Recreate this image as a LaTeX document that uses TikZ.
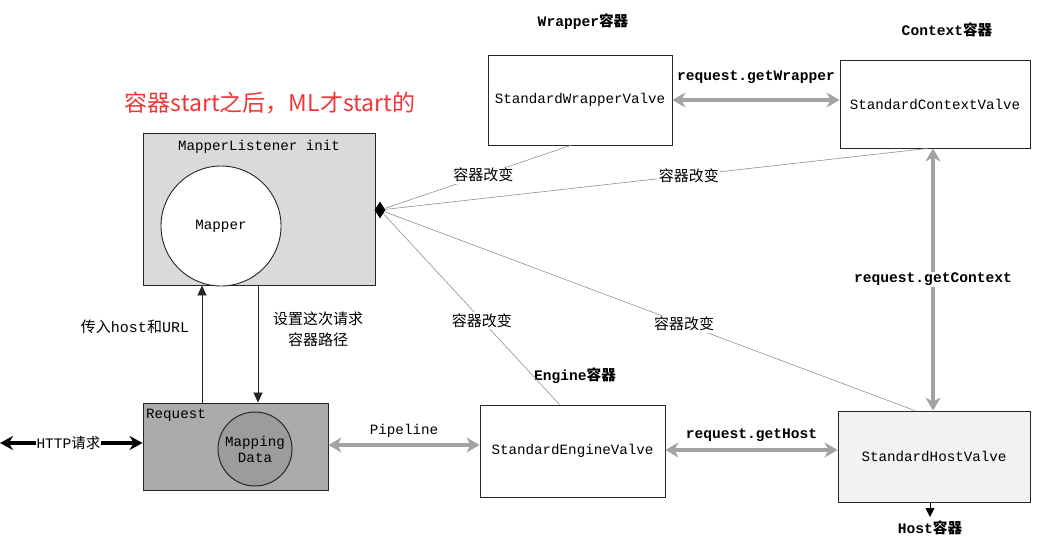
\documentclass[tikz,border=0pt]{standalone}
\usepackage{fontspec}
\setmainfont{Liberation Mono}
\newfontfamily\cjk{Noto Sans CJK SC}
\usetikzlibrary{arrows.meta,shapes.geometric,calc}
\definecolor{gline}{HTML}{A3A3A3}
\definecolor{thinline}{HTML}{909090}
\definecolor{mlfill}{HTML}{DADADA}
\definecolor{rqfill}{HTML}{ABABAB}
\definecolor{mdfill}{HTML}{9C9C9C}
\definecolor{hostfill}{HTML}{F2F2F2}
\definecolor{annot}{RGB}{240,55,55}
\tikzset{
  box/.style={draw=black!85, line width=0.9pt, inner sep=0pt, font=\fontsize{14.2}{16}\selectfont},
  circ/.style={circle, draw=black!85, line width=0.9pt, inner sep=0pt, align=center, font=\fontsize{14.2}{16}\selectfont},
  txt/.style={inner sep=1pt, font=\fontsize{14.2}{16}\selectfont},
  btxt/.style={inner sep=1pt, font=\fontsize{14.6}{16}\selectfont\bfseries},
  cjklab/.style={fill=white, inner sep=1.5pt, font=\cjk\fontsize{15}{17}\selectfont},
  fat/.style={line width=4.5pt, draw=gline, {Stealth[length=13pt,width=15pt]}-{Stealth[length=13pt,width=15pt]}},
  black fat/.style={line width=4pt, draw=black, {Stealth[length=13pt,width=14pt]}-{Stealth[length=13pt,width=14pt]}},
  change/.style={draw=thinline, line width=0.6pt},
  thinarrow/.style={draw=black!85, line width=0.8pt, -{Triangle[length=10pt,width=9pt]}}
}
\begin{document}
\begin{tikzpicture}[x=1pt,y=-1pt]
\useasboundingbox[fill=white] (0,0) rectangle (1059,548);

% boxes
\node[box, fill=mlfill, minimum width=232pt, minimum height=152pt] (ml) at (259,209) {};
\node[txt] (mltitle) at (259,147) {MapperListener init};
\node[circ, fill=white, minimum size=120pt] (mapper) at (221,226) {Mapper};

\node[box, fill=rqfill, minimum width=185pt, minimum height=87pt] (rq) at (235.5,446.5) {};
\node[txt] (rqtitle) at (176,415) {Request};
\node[circ, fill=mdfill, minimum size=74pt, line width=1pt] (md) at (255,449) {Mapping\\Data};

\node[box, minimum width=184pt, minimum height=90pt] (wr) at (580,100) {StandardWrapperValve};
\node[box, minimum width=190pt, minimum height=88pt] (ctx) at (935,104) {StandardContextValve};
\node[box, minimum width=185pt, minimum height=92pt] (eng) at (572.5,451) {StandardEngineValve};
\node[box, fill=hostfill, minimum width=192pt, minimum height=91pt] (host) at (934,456.5) {StandardHostValve};

% titles
\node[btxt] (wrt) at (583,22) {Wrapper{\cjk 容器}};
\node[btxt] (ctxt) at (947,30) {Context{\cjk 容器}};
\node[btxt] (engt) at (575,376) {Engine{\cjk 容器}};
\node[btxt] (hostt) at (930,528) {Host{\cjk 容器}};

% annotation
\node[text=annot, inner sep=0pt, font=\cjk\fontsize{23}{26}\selectfont] (note) at (270,103) {容器start之后，ML才start的};

% diamond hub
\node[diamond, fill=black, minimum width=11pt, minimum height=17pt, inner sep=0pt] (dia) at (380,210) {};

% container-change lines
\draw[change] (dia) -- ($(wr.south west)!0.45!(wr.south east)$) node[cjklab, pos=0.53] {容器改变};
\draw[change] (dia) -- ($(ctx.south west)!0.46!(ctx.south east)$) node[cjklab, pos=0.56] {容器改变};
\draw[change] (dia) -- ($(eng.north west)!0.43!(eng.north east)$) node[cjklab, pos=0.56] {容器改变};
\draw[change] (dia) -- ($(host.north west)!0.40!(host.north east)$) node[cjklab, pos=0.565] {容器改变};

% thick gray double arrows
\draw[fat] (wr.east) -- (wr.east -| ctx.west) node[btxt, midway, above=13pt] {request.getWrapper};
\draw[fat] (ctx.south -| 933,0) -- (host.north -| 933,0) node[btxt, fill=white, pos=0.5] {request.getContext};
\draw[fat] ([yshift=1pt]eng.east) -- ([yshift=1pt]eng.east -| host.west) node[btxt, midway, above=5pt] {request.getHost};
\draw[fat] ([yshift=1.5pt]rq.east) -- ([yshift=1.5pt]rq.east -| eng.west) node[txt, midway, above=4pt] {Pipeline};

% HTTP request
\coordinate (httpL) at (0,443);
\draw[black fat] (httpL) -- (httpL -| rq.west) node[fill=white, inner sep=1pt, pos=0.48, font=\fontsize{14.5}{16}\selectfont] {HTTP{\cjk 请求}};

% ML <-> Request
\draw[thinarrow] (rq.north -| 202,0) -- (ml.south -| 202,0);
\draw[thinarrow] (ml.south -| 258,0) -- (rq.north -| 258,0);
\node[inner sep=0pt, font=\fontsize{15}{17}\selectfont] (inlab) at (135,327) {{\cjk 传入}host{\cjk 和}URL};
\node[inner sep=0pt, align=center, font=\cjk\fontsize{15}{21}\selectfont] (setlab) at (318,329) {设置这次请求\\容器路径};

% host bottom arrow
\coordinate (hostdown) at (930,517);
\draw[draw=black, line width=0.8pt, -{Triangle[length=9pt,width=9pt]}] (host.south -| 930,0) -- (hostdown);
\end{tikzpicture}
\end{document}
